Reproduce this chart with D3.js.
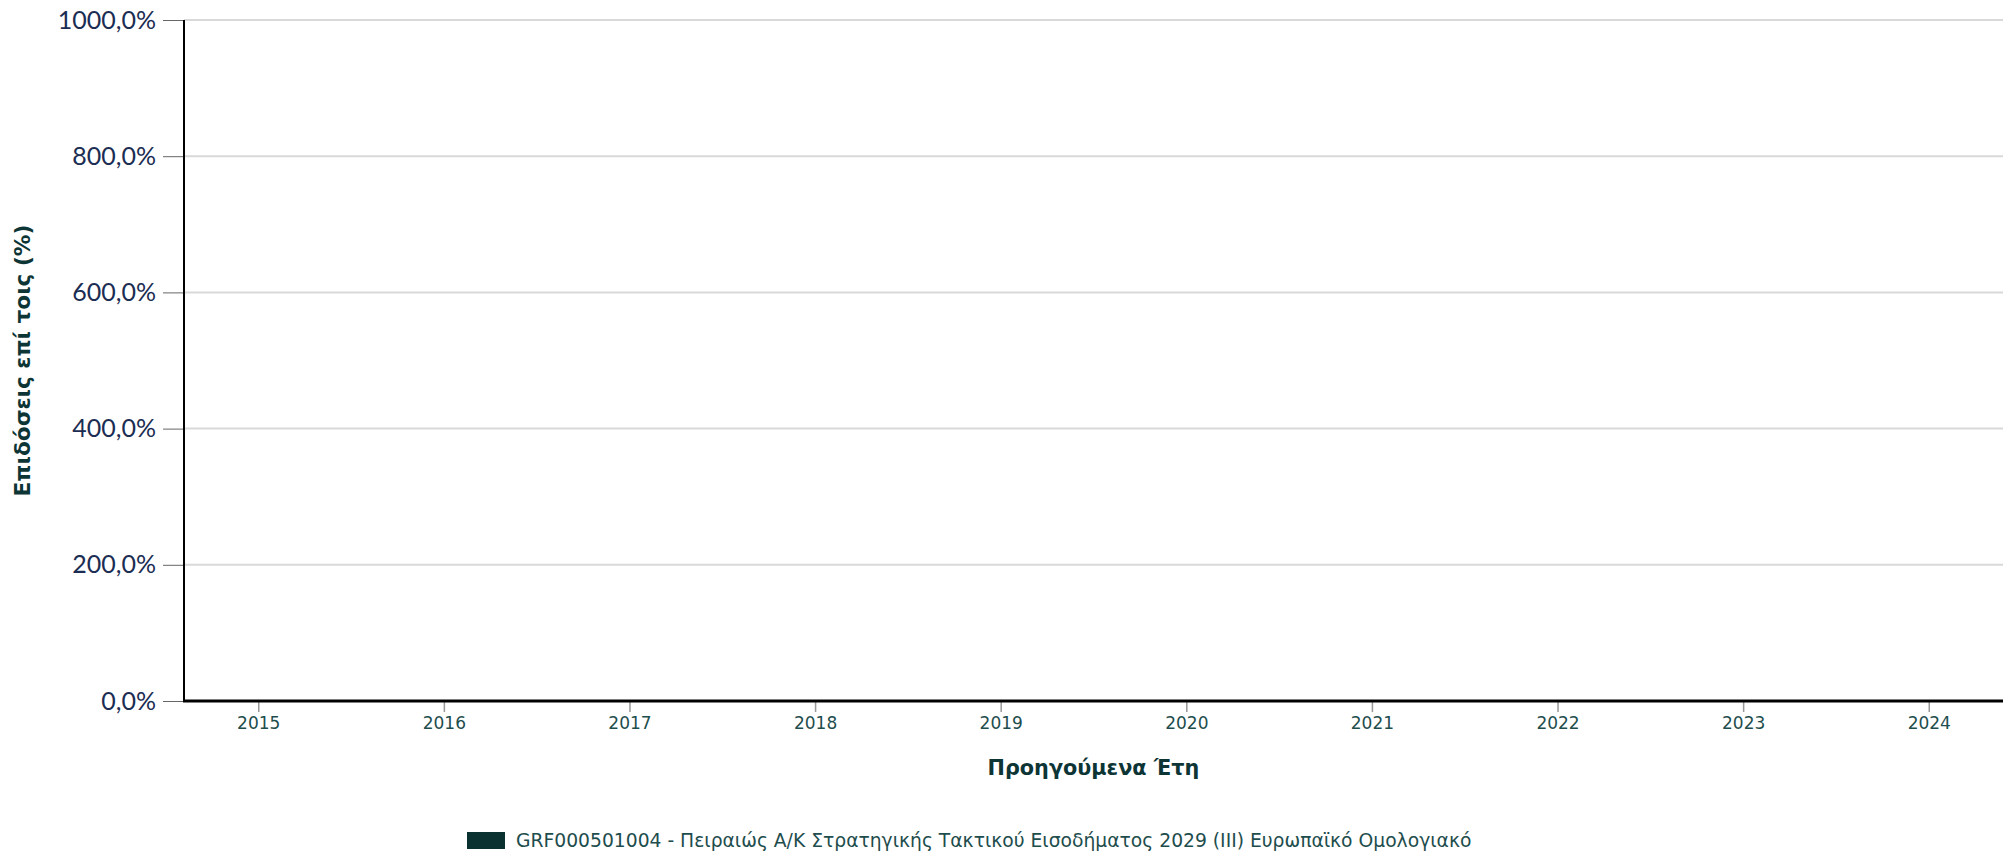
<!DOCTYPE html>
<html>
<head>
<meta charset="utf-8">
<script src="https://cdn.jsdelivr.net/npm/d3@7"></script>
<style>
  html, body { margin: 0; padding: 0; background: #fff; }
  svg { display: block; }
</style>
</head>
<body>
<div id="chart"></div>
<script>
// years shown on the x axis
var years = ["2015", "2016", "2017", "2018", "2019", "2020", "2021", "2022", "2023", "2024"];
// yearly returns (%) - no data published for these years
var returns = [null, null, null, null, null, null, null, null, null, null];
var yTicks = [0, 200, 400, 600, 800, 1000];
var seriesName = "GRF000501004 - Πειραιώς Α/Κ Στρατηγικής Τακτικού Εισοδήματος 2029 (ΙΙΙ) Ευρωπαϊκό Ομολογιακό";
var yTitle = "Επιδόσεις επί τοις (%)";
var xTitle = "Προηγούμενα Έτη";

var width = 2015, height = 855;
var margin = {left: 184, right: 12, top: 20, bottom: 154};

var svg = d3.select("#chart").append("svg").attr("width", width).attr("height", height);

var x = d3.scalePoint().domain(years).range([margin.left, width - margin.right]).padding(0.4);
var y = d3.scaleLinear().domain([0, 1000]).range([height - margin.bottom, margin.top]);

function fmt(v) {
    return d3.format(".1f")(v).replace(".", ",") + "%";
}

// shrink/grow a text node's font until it spans the wanted width
function fitWidth(sel, target) {
    var node = sel.node();
    var size = parseFloat(sel.style("font-size"));
    var w = node.getComputedTextLength();
    if (w > 0) sel.style("font-size", (size * target / w).toFixed(2) + "px");
}

// gridlines
svg.append("g").selectAll("line").data(yTicks.filter(function(d){ return d > 0; })).enter()
    .append("line")
    .attr("x1", margin.left).attr("x2", width - margin.right)
    .attr("y1", function(d){ return y(d); }).attr("y2", function(d){ return y(d); })
    .attr("stroke", "#d9d9d9").attr("stroke-width", 2);

// bars (none for this fund)
var bw = 60;
svg.append("g").selectAll("rect").data(returns.map(function(v, i){ return {year: years[i], v: v}; })
        .filter(function(d){ return d.v !== null; })).enter()
    .append("rect")
    .attr("x", function(d){ return x(d.year) - bw / 2; })
    .attr("width", bw)
    .attr("y", function(d){ return y(Math.max(0, d.v)); })
    .attr("height", function(d){ return Math.abs(y(d.v) - y(0)); })
    .attr("fill", "#0b3030");

// y axis
var yAxis = svg.append("g").attr("transform", "translate(" + margin.left + ",0)")
    .call(d3.axisLeft(y).tickValues(yTicks).tickFormat(fmt).tickSize(21).tickPadding(7));
yAxis.select(".domain").remove();
yAxis.selectAll(".tick line").attr("stroke", "#666").attr("stroke-width", 1);
yAxis.selectAll(".tick text")
    .attr("fill", "#1b2d52")
    .style("font-family", "Lato, 'Open Sans', sans-serif")
    .style("font-size", "25px");
svg.append("line")
    .attr("x1", margin.left).attr("x2", margin.left)
    .attr("y1", margin.top).attr("y2", y(0) + 1)
    .attr("stroke", "#000").attr("stroke-width", 2);

// x axis
var xAxis = svg.append("g").attr("transform", "translate(0," + y(0) + ")")
    .call(d3.axisBottom(x).tickSize(11).tickPadding(5));
xAxis.select(".domain").remove();
xAxis.selectAll(".tick line").attr("stroke", "#999").attr("stroke-width", 1.5);
xAxis.selectAll(".tick text")
    .attr("fill", "#1e4d4d")
    .style("font-family", "'DejaVu Sans', sans-serif")
    .style("font-size", "17px");
svg.append("line")
    .attr("x1", margin.left - 1).attr("x2", width - margin.right)
    .attr("y1", y(0)).attr("y2", y(0))
    .attr("stroke", "#000").attr("stroke-width", 3);

// axis titles
var yt = svg.append("text")
    .attr("transform", "translate(30," + ((margin.top + y(0)) / 2) + ") rotate(-90)")
    .attr("text-anchor", "middle")
    .attr("fill", "#0d3535")
    .style("font-family", "'DejaVu Sans', sans-serif")
    .style("font-weight", "bold")
    .style("font-size", "20px")
    .text(yTitle);
fitWidth(yt, 272);

var xt = svg.append("text")
    .attr("x", (margin.left + width - margin.right) / 2)
    .attr("y", 775)
    .attr("text-anchor", "middle")
    .attr("fill", "#0d3535")
    .style("font-family", "'DejaVu Sans', sans-serif")
    .style("font-weight", "bold")
    .style("font-size", "20px")
    .text(xTitle);
fitWidth(xt, 212);

// legend
var legend = svg.append("g").attr("transform", "translate(467,832)");
legend.append("rect").attr("width", 38).attr("height", 17).attr("fill", "#0b3030");
var lt = legend.append("text")
    .attr("x", 49).attr("y", 15)
    .attr("fill", "#1e4d4d")
    .style("font-family", "'DejaVu Sans', sans-serif")
    .style("font-size", "18px")
    .text(seriesName);
fitWidth(lt, 956);
</script>
</body>
</html>
